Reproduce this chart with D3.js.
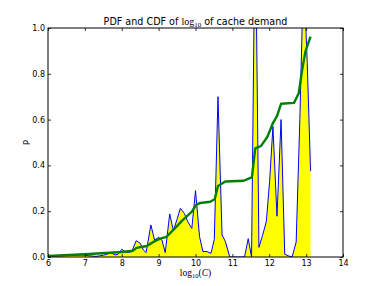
<!DOCTYPE html>
<html>
<head>
<meta charset="utf-8">
<script src="https://cdn.jsdelivr.net/npm/d3@7"></script>
<style>
  body { margin: 0; background: #fff; }
  svg { display: block; }
  text { font-family: "DejaVu Sans", sans-serif; }
</style>
</head>
<body>
<svg id="chart"></svg>
<script>
var width = 382;
var height = 286;

// PDF (blue line, yellow fill)
var pdfX = [6.0, 6.1, 6.2, 6.3, 6.4, 6.5, 6.6, 6.7, 6.8, 6.9,
            7.0, 7.1, 7.2, 7.3, 7.4, 7.5, 7.6, 7.7, 7.82, 7.9,
            8.0, 8.09, 8.18, 8.27, 8.39, 8.5, 8.59, 8.66, 8.79, 8.89,
            9.0, 9.09, 9.18, 9.3, 9.4, 9.5, 9.59, 9.7, 9.79, 9.9,
            10.0, 10.11, 10.2, 10.31, 10.42, 10.51, 10.61, 10.72, 10.81, 10.93,
            11.03, 11.13, 11.23, 11.33, 11.43, 11.52, 11.62, 11.72, 11.82, 11.92,
            12.01, 12.1, 12.21, 12.32, 12.42, 12.52, 12.62, 12.73, 12.83, 12.93,
            13.03, 13.12];
var pdfP = [0.004, 0.005, 0.005, 0.006, 0.006, 0.007, 0.007, 0.008, 0.008, 0.009,
            0.008, 0.006, 0.004, 0.003, 0.005, 0.008, 0.012, 0.02, 0.009, 0.012,
            0.034, 0.023, 0.02, 0.023, 0.071, 0.06, 0.03, 0.019, 0.14, 0.074,
            0.086, 0.074, 0.019, 0.188, 0.115, 0.165, 0.213, 0.19, 0.154, 0.125,
            0.29, 0.089, 0.024, 0.024, 0.016, 0.077, 0.70, 0.096, 0.068, 0.0,
            0.0, 0.0, 0.0, 0.0, 0.08, 0.0, 1.55, 0.042, 0.095, 0.155,
            0.33, 0.57, 0.178, 0.60, 0.012, 0.005, 0.0, 0.065, 0.6, 1.25,
            0.85, 0.375];

// CDF (green line)
var cdfX = [6.0, 7.0, 8.0, 8.3, 8.4, 8.68, 8.86, 9.04, 9.21, 9.4,
            9.63, 9.9, 10.02, 10.13, 10.4, 10.52, 10.61, 10.81, 11.31, 11.44,
            11.53, 11.62, 11.78, 11.95, 12.1, 12.21, 12.32, 12.67, 12.8, 12.89,
            12.98, 13.12];
var cdfP = [0.005, 0.012, 0.022, 0.027, 0.04, 0.048, 0.066, 0.08, 0.088, 0.118,
            0.158, 0.198, 0.228, 0.236, 0.241, 0.252, 0.31, 0.33, 0.333, 0.342,
            0.348, 0.474, 0.485, 0.525, 0.585, 0.615, 0.669, 0.673, 0.715, 0.815,
            0.897, 0.962];

var xTicks = [6, 7, 8, 9, 10, 11, 12, 13, 14];
var yTicks = [0, 0.2, 0.4, 0.6, 0.8, 1.0];

var padLeft = 48, padRight = 343, padTop = 28, padBottom = 257;

var xScale = d3.scaleLinear().domain([6, 14]).range([padLeft, padRight]);
var yScale = d3.scaleLinear().domain([0, 1]).range([padBottom, padTop]);

var svg = d3.select('#chart')
    .attr('width', width)
    .attr('height', height);

svg.append('clipPath')
    .attr('id', 'plotclip')
    .append('rect')
    .attr('x', padLeft)
    .attr('y', padTop)
    .attr('width', padRight - padLeft)
    .attr('height', padBottom - padTop);

var pdf = pdfX.map((x, i) => ({x: x, p: pdfP[i]}));
var cdf = cdfX.map((x, i) => ({x: x, p: cdfP[i]}));

var plot = svg.append('g').attr('clip-path', 'url(#plotclip)');

plot.append('path')
    .datum(pdf)
    .attr('fill', '#ffff00')
    .attr('d', d3.area()
        .x(d => xScale(d.x))
        .y0(yScale(0))
        .y1(d => yScale(d.p)));

plot.append('path')
    .datum(pdf)
    .attr('fill', 'none')
    .attr('stroke', '#0000ff')
    .attr('stroke-width', 1)
    .attr('d', d3.line().x(d => xScale(d.x)).y(d => yScale(d.p)));

plot.append('path')
    .datum(cdf)
    .attr('fill', 'none')
    .attr('stroke', '#008000')
    .attr('stroke-width', 2.4)
    .attr('stroke-linejoin', 'round')
    .attr('d', d3.line().x(d => xScale(d.x)).y(d => yScale(d.p)));

// Axes, ticks pointing inward on all four sides
var xAxis = d3.axisBottom(xScale).tickValues(xTicks).tickSize(-3).tickPadding(3).tickSizeOuter(0);
var xAxisTop = d3.axisTop(xScale).tickValues(xTicks).tickSize(-3).tickFormat('').tickSizeOuter(0);
var yAxis = d3.axisLeft(yScale).tickValues(yTicks).tickSize(-3).tickPadding(3)
    .tickFormat(d3.format('.1f')).tickSizeOuter(0);
var yAxisRight = d3.axisRight(yScale).tickValues(yTicks).tickSize(-3).tickFormat('').tickSizeOuter(0);

function styleAxis(g) {
  g.select('.domain').remove();
  g.selectAll('line').attr('stroke', '#000').attr('stroke-width', 0.8);
  g.selectAll('text').attr('fill', '#000').style('font-size', '8px')
    .style('font-family', '"DejaVu Sans", sans-serif');
}

svg.append('g').attr('transform', 'translate(0,' + padBottom + ')').call(xAxis).call(styleAxis);
svg.append('g').attr('transform', 'translate(0,' + padTop + ')').call(xAxisTop).call(styleAxis);
svg.append('g').attr('transform', 'translate(' + padLeft + ',0)').call(yAxis).call(styleAxis);
svg.append('g').attr('transform', 'translate(' + padRight + ',0)').call(yAxisRight).call(styleAxis);

// frame
svg.append('rect')
    .attr('x', padLeft)
    .attr('y', padTop)
    .attr('width', padRight - padLeft)
    .attr('height', padBottom - padTop)
    .attr('fill', 'none')
    .attr('stroke', '#000')
    .attr('stroke-width', 1);

// Title
var title = svg.append('text')
    .attr('x', (padLeft + padRight) / 2)
    .attr('y', 25)
    .style('text-anchor', 'middle')
    .style('font-size', '9.6px');
title.append('tspan').text('PDF and CDF of ');
title.append('tspan').style('font-family', '"Liberation Serif", serif').style('font-size', '10px').text('log');
title.append('tspan').style('font-family', '"Liberation Serif", serif').style('font-size', '7px').attr('dy', 2).text('10');
title.append('tspan').attr('dy', -2).text(' of cache demand');

// x label
var xlab = svg.append('text')
    .attr('x', (padLeft + padRight) / 2)
    .attr('y', 276)
    .style('text-anchor', 'middle')
    .style('font-family', '"Liberation Serif", serif')
    .style('font-size', '9.5px');
xlab.append('tspan').text('log');
xlab.append('tspan').style('font-size', '6.5px').attr('dy', 2).text('10');
xlab.append('tspan').attr('dy', -2).text('(');
xlab.append('tspan').style('font-style', 'italic').text('C');
xlab.append('tspan').text(')');

// y label
svg.append('text')
    .attr('transform', 'rotate(-90)')
    .attr('x', -(padTop + padBottom) / 2)
    .attr('y', 28)
    .style('text-anchor', 'middle')
    .style('font-size', '8px')
    .text('p');
</script>
</body>
</html>
